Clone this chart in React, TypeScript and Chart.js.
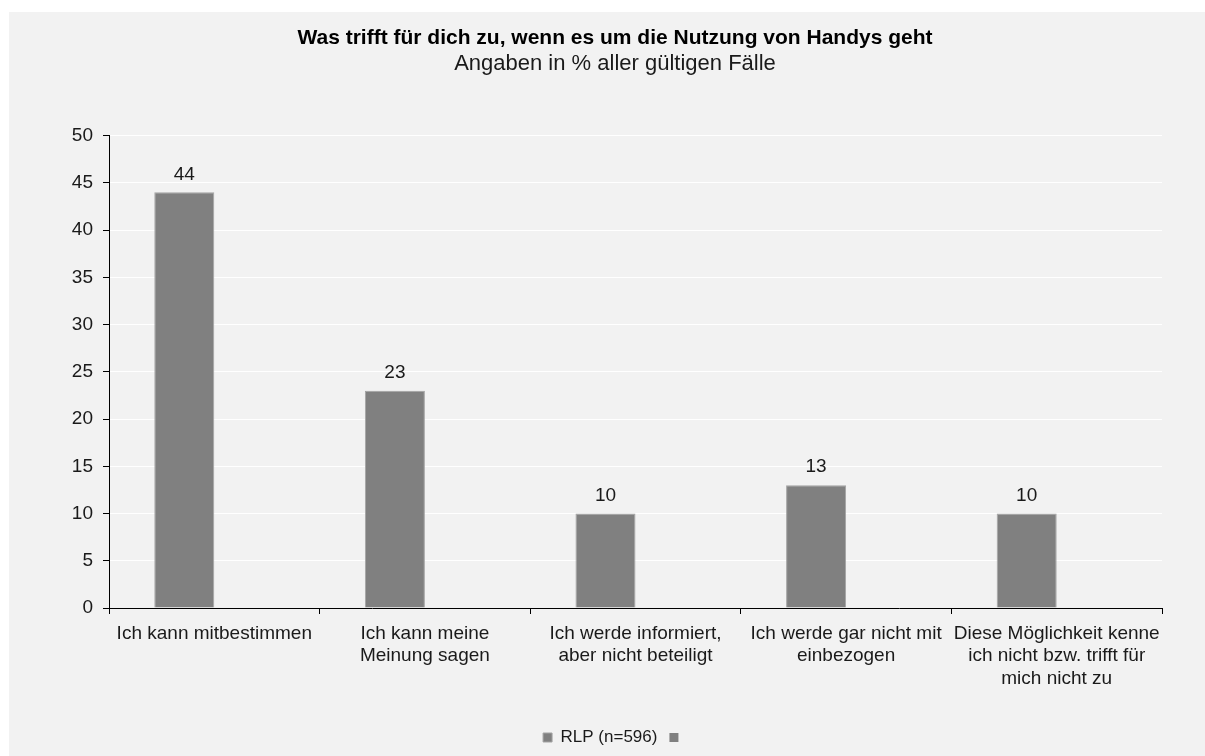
import React, { useEffect, useRef } from "react";
import { Chart, registerables } from "chart.js";

Chart.register(...registerables);

const categories: string[][] = [
  ["Ich kann mitbestimmen"],
  ["Ich kann meine", "Meinung sagen"],
  ["Ich werde informiert,", "aber nicht beteiligt"],
  ["Ich werde gar nicht mit", "einbezogen"],
  ["Diese Möglichkeit kenne", "ich nicht bzw. trifft für", "mich nicht zu"],
];
const rlpValues: number[] = [44, 23, 10, 13, 10];
const emptyValues: (number | null)[] = [null, null, null, null, null];
const seriesLabel = "RLP (n=596)";
const titleText = "Was trifft für dich zu, wenn es um die Nutzung von Handys geht";
const subtitleText = "Angaben in % aller gültigen Fälle";
const yMin = 0;
const yMax = 50;
const yStep = 5;

const FONT = "'Liberation Sans', Arial, sans-serif";
const TEXT = "#1a1a1a";

const valueLabels = {
  id: "valueLabels",
  afterDatasetsDraw(chart: any) {
    const ctx = chart.ctx;
    const meta = chart.getDatasetMeta(0);
    ctx.save();
    ctx.font = `19px ${FONT}`;
    ctx.fillStyle = TEXT;
    ctx.textAlign = "center";
    ctx.textBaseline = "middle";
    meta.data.forEach((bar: any, i: number) => {
      const v = chart.data.datasets[0].data[i];
      if (v == null) return;
      ctx.fillText(String(v), bar.x, bar.y - 18);
    });
    ctx.restore();
  },
};

export default function App() {
  const ref = useRef<HTMLCanvasElement | null>(null);
  useEffect(() => {
    if (!ref.current) return;
    const chart = new Chart(ref.current, {
      type: "bar",
      data: {
        labels: categories as any,
        datasets: [
          {
            label: seriesLabel,
            data: rlpValues,
            backgroundColor: "#808080",
            borderColor: "#a3a3a3",
            borderWidth: 1,
            categoryPercentage: 0.57,
            barPercentage: 1,
          },
          {
            label: "",
            data: emptyValues,
            backgroundColor: "#808080",
            borderColor: "#808080",
            borderWidth: 0,
            categoryPercentage: 0.57,
            barPercentage: 1,
          },
        ],
      },
      options: {
        responsive: false,
        animation: false,
        layout: { padding: { left: 16, right: 0, top: 0, bottom: 0 } },
        plugins: {
          title: {
            display: true,
            text: titleText,
            color: "#000",
            font: { family: FONT, size: 21, weight: "bold" },
            padding: { top: 14, bottom: 0 },
          },
          subtitle: {
            display: true,
            text: subtitleText,
            color: TEXT,
            font: { family: FONT, size: 22 },
            padding: { top: 0, bottom: 58 },
          },
          legend: {
            display: true,
            position: "bottom",
            labels: {
              boxWidth: 9,
              boxHeight: 9,
              color: TEXT,
              font: { family: FONT, size: 17 },
              padding: 12,
            },
          },
          tooltip: { enabled: false },
        },
        scales: {
          x: {
            offset: true,
            grid: {
              display: true,
              offset: true,
              drawOnChartArea: false,
              drawTicks: true,
              tickLength: 6,
              tickColor: "#000",
              color: "#000",
            },
            border: { display: true, color: "#000", width: 1 },
            ticks: {
              color: TEXT,
              font: { family: FONT, size: 19, lineHeight: 1.2 },
              padding: 8,
              maxRotation: 0,
              minRotation: 0,
              autoSkip: false,
            },
            afterFit: (s: any) => {
              s.height = 109;
            },
          },
          y: {
            min: yMin,
            max: yMax,
            ticks: {
              stepSize: yStep,
              color: TEXT,
              font: { family: FONT, size: 19 },
              padding: 10,
            },
            grid: {
              color: (c: any) => (c.tick && c.tick.value === 0 ? "rgba(0,0,0,0)" : "#ffffff"),
              tickColor: "#000",
              tickLength: 6,
              lineWidth: 1,
            },
            border: { display: true, color: "#000", width: 1 },
            afterFit: (s: any) => {
              s.width = 84;
            },
          },
          yR: {
            type: "linear",
            position: "right",
            display: true,
            ticks: { display: false },
            grid: { display: false },
            border: { display: false },
            afterFit: (s: any) => {
              s.width = 43;
            },
          },
        },
      } as any,
      plugins: [valueLabels],
    });
    return () => chart.destroy();
  }, []);

  return (
    <div
      style={{
        position: "fixed",
        left: 9,
        top: 12,
        width: 1196,
        height: 744,
        background: "#f2f2f2",
      }}
    >
      <canvas ref={ref} width={1196} height={744} style={{ display: "block" }} />
    </div>
  );
}
